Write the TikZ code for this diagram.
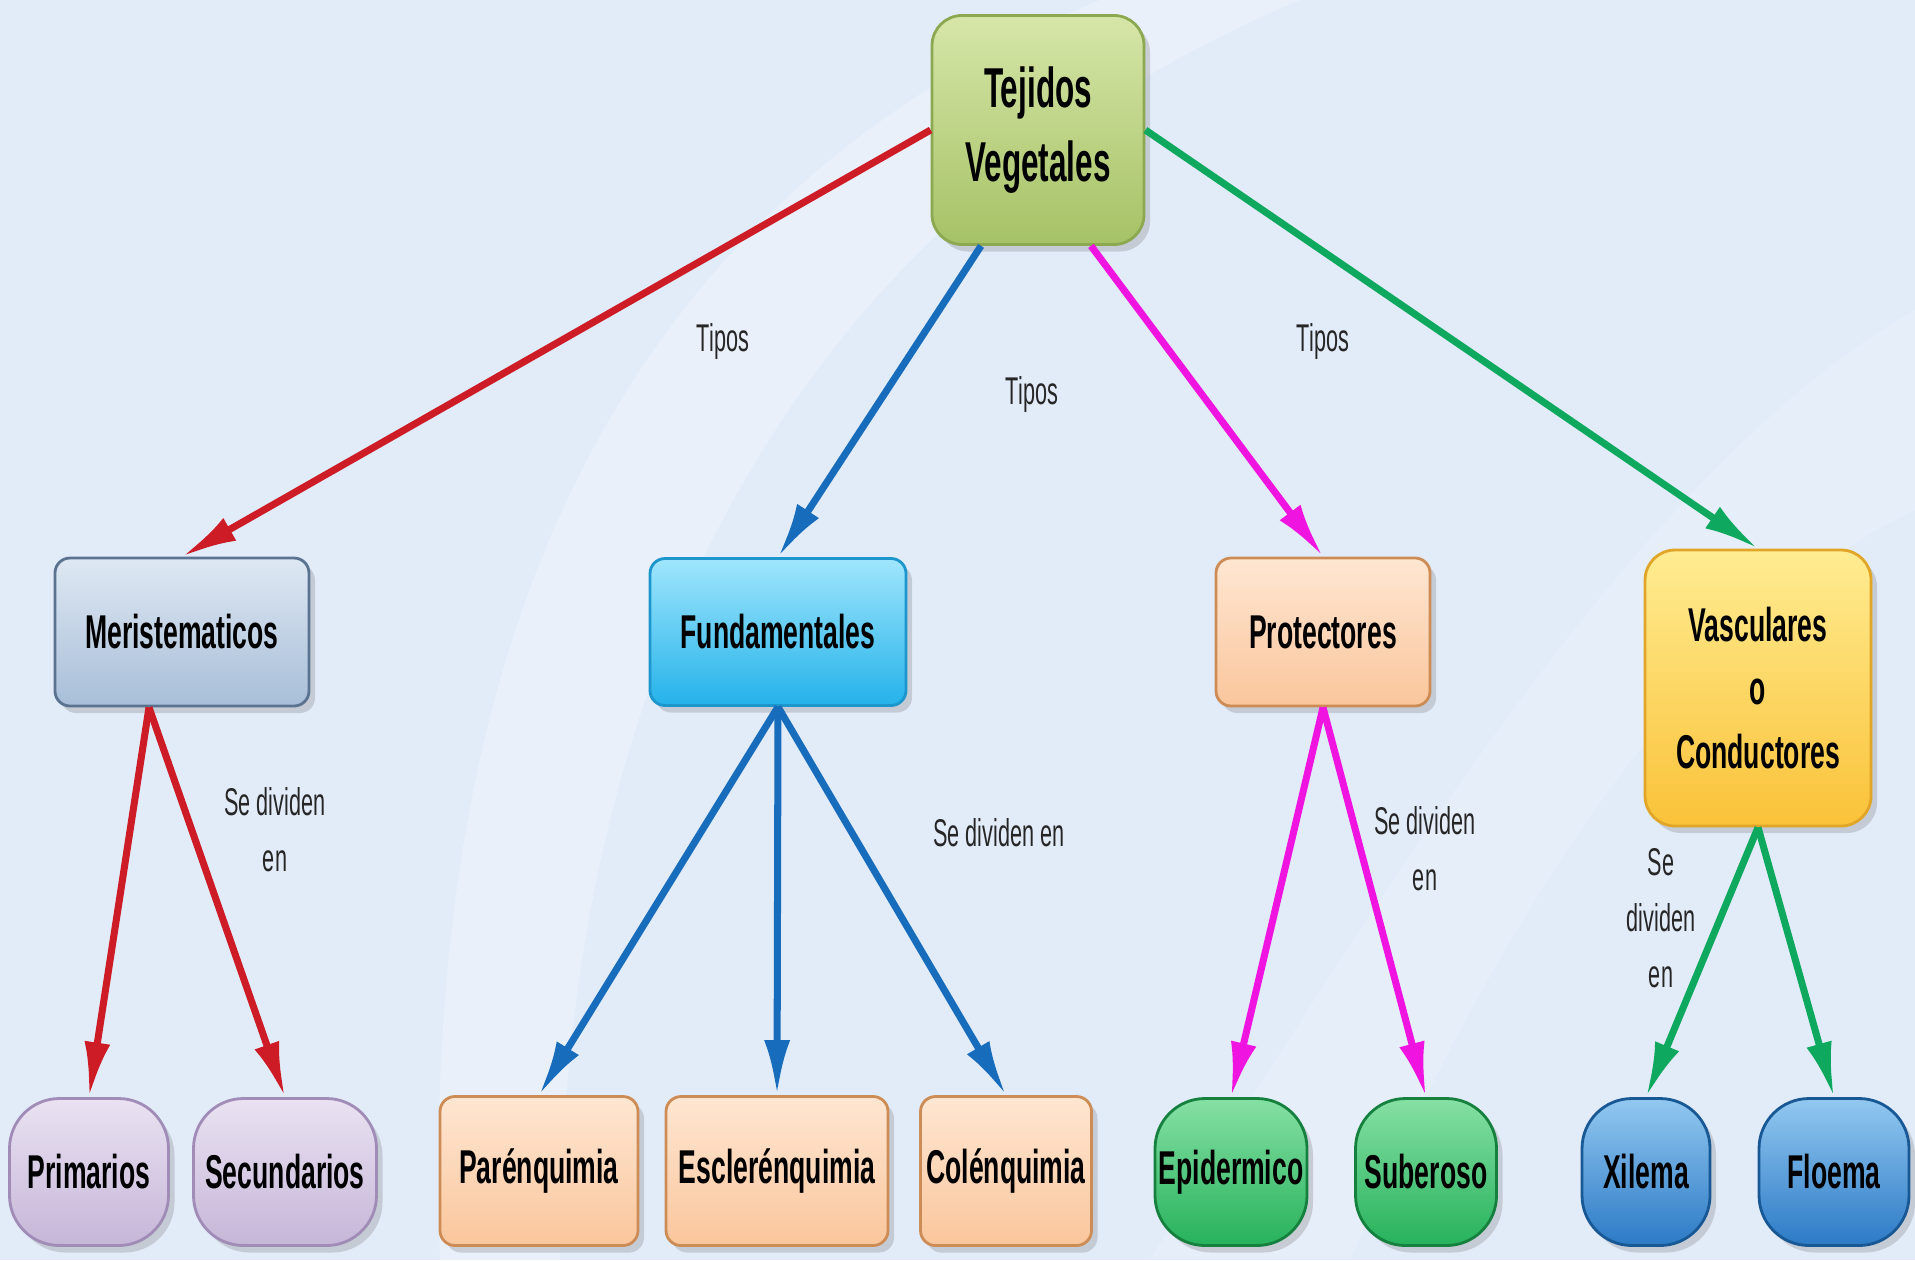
\documentclass[tikz,border=0pt]{standalone}
\usepackage{fontspec}
\setmainfont{Liberation Sans}[FakeStretch=0.56]
\usetikzlibrary{arrows.meta,shadows}
\definecolor{fondo}{RGB}{226,236,249}
\definecolor{tejt}{RGB}{214,230,168}\definecolor{tejd}{RGB}{166,194,102}\definecolor{tejb}{RGB}{140,168,80}
\definecolor{mert}{RGB}{222,232,243}\definecolor{merd}{RGB}{168,190,216}\definecolor{merb}{RGB}{90,115,145}
\definecolor{funt}{RGB}{160,230,252}\definecolor{fund}{RGB}{36,178,234}\definecolor{funb}{RGB}{28,150,205}
\definecolor{prot}{RGB}{254,230,210}\definecolor{prod}{RGB}{250,198,156}\definecolor{prob}{RGB}{205,140,85}
\definecolor{vast}{RGB}{255,236,146}\definecolor{vasd}{RGB}{250,194,56}\definecolor{vasb}{RGB}{225,165,40}
\definecolor{prit}{RGB}{234,226,242}\definecolor{prid}{RGB}{198,182,216}\definecolor{prib}{RGB}{160,140,182}
\definecolor{epit}{RGB}{134,224,164}\definecolor{epid}{RGB}{38,178,92}\definecolor{epib}{RGB}{22,128,62}
\definecolor{xilt}{RGB}{146,200,240}\definecolor{xild}{RGB}{44,122,198}\definecolor{xilb}{RGB}{24,88,148}
\definecolor{rojo}{RGB}{205,28,38}\definecolor{azul}{RGB}{24,108,188}
\definecolor{rosa}{RGB}{240,20,225}\definecolor{verde}{RGB}{14,168,94}
\tikzset{
  box/.style={draw, line width=0.8pt, rounded corners=1.5mm, inner sep=0pt, align=center,
    font=\fontsize{13.5}{18}\selectfont\bfseries,
    drop shadow={opacity=0.3, shadow xshift=0.6mm, shadow yshift=-0.7mm}},
  pill/.style={box, rounded corners=5mm},
  rama/.style={line width=2pt, -{Latex[length=5.5mm,width=2.6mm]}},
  tipo/.style={font=\fontsize{11}{16}\selectfont, align=center, text=black!85},
}
\begin{document}
\begin{tikzpicture}
  \fill[fondo] (0,0) rectangle (19.15,12.60);
  \useasboundingbox (0,0) rectangle (19.15,12.60);
  \fill[white, opacity=0.25] (4.4,0) .. controls (4.2,6) and (6,10.5) .. (11,12.6) -- (13,12.6) .. controls (8,10.5) and (5.6,6) .. (5.6,0) -- cycle;
  \fill[white, opacity=0.15] (11.5,0) .. controls (14,4) and (16.5,8) .. (19.15,9.5) -- (19.15,7.5) .. controls (17,6.5) and (15,3.5) .. (13.5,0) -- cycle;

  \node[box, draw=tejb, top color=tejt, bottom color=tejd, rounded corners=3mm,
    minimum width=2.12cm, minimum height=2.29cm, font=\fontsize{16}{21}\selectfont\bfseries] (tej) at (10.38,11.30) {Tejidos\\Vegetales};

  \node[box, draw=merb, top color=mert, bottom color=merd, minimum width=2.54cm, minimum height=1.48cm] (mer) at (1.82,6.28) {Meristematicos};
  \node[box, draw=funb, top color=funt, bottom color=fund, minimum width=2.56cm, minimum height=1.47cm] (fun) at (7.78,6.28) {Fundamentales};
  \node[box, draw=prob, top color=prot, bottom color=prod, minimum width=2.14cm, minimum height=1.48cm] (pro) at (13.23,6.28) {Protectores};
  \node[box, draw=vasb, top color=vast, bottom color=vasd, rounded corners=3mm,
    minimum width=2.26cm, minimum height=2.76cm] (vas) at (17.58,5.72) {Vasculares\\o\\Conductores};

  \node[pill, draw=prib, top color=prit, bottom color=prid, minimum width=1.59cm, minimum height=1.47cm] (pri) at (0.89,0.88) {Primarios};
  \node[pill, draw=prib, top color=prit, bottom color=prid, minimum width=1.83cm, minimum height=1.47cm] (sec) at (2.85,0.88) {Secundarios};
  \node[box, draw=prob, top color=prot, bottom color=prod, minimum width=1.98cm, minimum height=1.49cm] (par) at (5.39,0.89) {Parénquimia};
  \node[box, draw=prob, top color=prot, bottom color=prod, minimum width=2.22cm, minimum height=1.49cm] (esc) at (7.77,0.89) {Esclerénquimia};
  \node[box, draw=prob, top color=prot, bottom color=prod, minimum width=1.71cm, minimum height=1.49cm] (col) at (10.06,0.89) {Colénquimia};
  \node[pill, draw=epib, top color=epit, bottom color=epid, minimum width=1.52cm, minimum height=1.47cm] (epi) at (12.31,0.88) {Epidermico};
  \node[pill, draw=epib, top color=epit, bottom color=epid, minimum width=1.41cm, minimum height=1.47cm] (sub) at (14.26,0.88) {Suberoso};
  \node[pill, draw=xilb, top color=xilt, bottom color=xild, minimum width=1.28cm, minimum height=1.47cm] (xil) at (16.46,0.88) {Xilema};
  \node[pill, draw=xilb, top color=xilt, bottom color=xild, minimum width=1.50cm, minimum height=1.47cm] (flo) at (18.34,0.88) {Floema};

  \draw[rama, rojo] (tej.west) -- (mer.north);
  \draw[rama, azul] ([xshift=-5.7mm]tej.south) -- (fun.north);
  \draw[rama, rosa] ([xshift=5.3mm]tej.south) -- (pro.north);
  \draw[rama, verde] (tej.east) -- (vas.north);

  \foreach \hijo in {pri,sec}
    \draw[rama, rojo] ([xshift=-3.3mm]mer.south) -- (\hijo.north);
  \foreach \hijo in {par,esc,col}
    \draw[rama, azul] (fun.south) -- (\hijo.north);
  \foreach \hijo in {epi,sub}
    \draw[rama, rosa] (pro.south) -- (\hijo.north);
  \foreach \hijo in {xil,flo}
    \draw[rama, verde] (vas.south) -- (\hijo.north);

  \node[tipo] (tipo1) at (7.23,9.19) {Tipos};
  \node[tipo] (tipo2) at (10.32,8.66) {Tipos};
  \node[tipo] (tipo3) at (13.23,9.19) {Tipos};
  \node[tipo] (div1) at (2.75,4.30) {Se dividen\\en};
  \node[tipo] (div2) at (9.99,4.27) {Se dividen en};
  \node[tipo] (div3) at (14.25,4.11) {Se dividen\\en};
  \node[tipo] (div4) at (16.61,3.42) {Se\\dividen\\en};
\end{tikzpicture}
\end{document}
